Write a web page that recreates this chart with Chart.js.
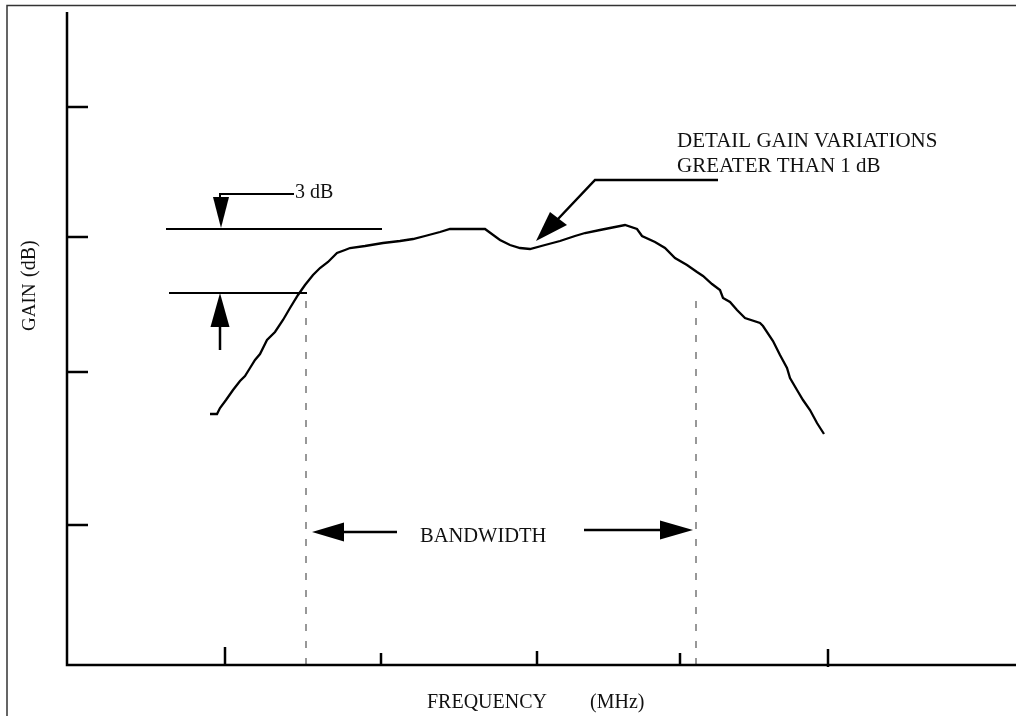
<!DOCTYPE html>
<html><head><meta charset="utf-8">
<script src="https://cdn.jsdelivr.net/npm/chart.js@4/dist/chart.umd.min.js"></script>
<style>html,body{margin:0;padding:0;background:#fff;}canvas{display:block;}</style>
</head><body>
<canvas id="c" width="1016" height="716"></canvas>
<script>
// Frequency (arbitrary MHz units) and gain (arbitrary dB units)
const freq = [14.3,15.0,15.3,15.9,16.6,17.3,17.8,18.3,18.8,19.3,20.0,20.8,21.6,22.3,23.1,23.8,24.6,25.3,26.1,27.0,27.8,28.3,29.8,31.6,33.3,34.6,35.8,37.3,38.3,41.8,43.3,44.3,45.3,46.3,47.8,49.3,50.8,51.8,53.3,54.3,55.8,57.0,57.5,58.8,59.8,60.8,62.0,63.0,63.6,64.5,65.3,65.6,66.3,67.0,67.8,69.3,69.6,70.6,71.3,72.0,72.3,73.0,73.6,74.3,75.0,75.7];
const gain = [25.1,25.1,25.7,26.5,27.5,28.4,28.9,29.7,30.5,31.1,32.5,33.3,34.5,35.7,37.0,38.0,39.0,39.7,40.3,41.2,41.5,41.7,41.9,42.2,42.4,42.6,42.9,43.3,43.6,43.6,42.5,42.0,41.7,41.6,42.0,42.4,42.9,43.2,43.5,43.7,44.0,43.6,42.9,42.3,41.7,40.7,40.0,39.3,38.9,38.1,37.5,36.7,36.3,35.5,34.7,34.2,33.9,32.4,31.0,29.7,28.7,27.5,26.5,25.5,24.2,23.1];

const xTickValues = [15.8, 31.4, 47.0, 61.3, 76.1];
const yTickValues = [55.8, 42.8, 29.3, 14.0];

const upperRefFreq = [9.9, 31.5];   const upperRefGain = 43.6;
const lowerRefFreq = [10.2, 24.0];  const lowerRefGain = 37.2;
const bandEdgeFreq = [23.9, 62.9];

// annotation geometry (data units)
const downArrowHead = [[15.4, 43.7], [14.6, 46.8], [16.2, 46.8]];
const downArrowLeader = [[15.3, 46.8], [15.3, 47.1], [22.7, 47.1]];
const upArrowHead = [[15.3, 37.2], [14.35, 33.8], [16.25, 33.8]];
const upArrowShaft = [[15.3, 33.8], [15.3, 31.5]];
const bwLeftHead = [[24.5, 13.3], [27.7, 14.25], [27.7, 12.35]];
const bwLeftShaft = [[27.7, 13.3], [33.0, 13.3]];
const bwRightHead = [[62.6, 13.5], [59.3, 14.45], [59.3, 12.55]];
const bwRightShaft = [[51.7, 13.5], [59.3, 13.5]];
const pointerLine = [[65.1, 48.5], [52.8, 48.5], [49.1, 44.6]];
const pointerHead = [[46.9, 42.4], [48.3, 45.3], [50.0, 44.0]];

const labels = {
  threeDb: {text: '3 dB', x: 22.8, y: 46.7, size: 20},
  bandwidth: {text: 'BANDWIDTH', x: 35.3, y: 12.3, size: 20.5},
  detail1: {text: 'DETAIL GAIN VARIATIONS', x: 61.0, y: 51.8, size: 21},
  detail2: {text: 'GREATER THAN 1 dB', x: 61.0, y: 49.3, size: 21}
};

const pts = (xs, ys) => xs.map((x, i) => ({x, y: ys[i]}));

const datasets = [
  {data: pts(freq, gain), borderColor: '#000', borderWidth: 2.3},
  {data: upperRefFreq.map(x => ({x, y: upperRefGain})), borderColor: '#000', borderWidth: 2},
  {data: lowerRefFreq.map(x => ({x, y: lowerRefGain})), borderColor: '#000', borderWidth: 2},
  {data: [{x: bandEdgeFreq[0], y: 0}, {x: bandEdgeFreq[0], y: lowerRefGain}], borderColor: '#777', borderWidth: 1.5, borderDash: [7, 10]},
  {data: [{x: bandEdgeFreq[1], y: 0}, {x: bandEdgeFreq[1], y: lowerRefGain}], borderColor: '#777', borderWidth: 1.5, borderDash: [7, 10]}
].map(d => Object.assign({showLine: true, pointRadius: 0, tension: 0, fill: false}, d));

const drawPlugin = {
  id: 'drawing',
  afterDraw(chart) {
    const ctx = chart.ctx, xs = chart.scales.x, ys = chart.scales.y, a = chart.chartArea;
    const P = p => [xs.getPixelForValue(p[0]), ys.getPixelForValue(p[1])];
    ctx.save();
    // outer frame
    ctx.strokeStyle = '#333'; ctx.lineWidth = 1.5;
    ctx.beginPath(); ctx.moveTo(7, 716); ctx.lineTo(7, 5.5); ctx.lineTo(1016, 5.5); ctx.stroke();
    // axes
    ctx.strokeStyle = '#000'; ctx.lineWidth = 2.5;
    ctx.beginPath(); ctx.moveTo(a.left, a.top); ctx.lineTo(a.left, a.bottom); ctx.lineTo(a.right, a.bottom); ctx.stroke();
    // ticks
    const xLens = [18, 12, 14, 12, 16];
    xTickValues.forEach((v, i) => {
      const px = xs.getPixelForValue(v);
      ctx.beginPath(); ctx.moveTo(px, a.bottom + (i === 4 ? 2 : 0)); ctx.lineTo(px, a.bottom - xLens[i]); ctx.stroke();
    });
    yTickValues.forEach(v => {
      const py = ys.getPixelForValue(v);
      ctx.beginPath(); ctx.moveTo(a.left, py); ctx.lineTo(a.left + 21, py); ctx.stroke();
    });
    // polylines
    const poly = (list, w) => {
      ctx.lineWidth = w; ctx.beginPath();
      list.forEach((p, i) => { const q = P(p); i ? ctx.lineTo(q[0], q[1]) : ctx.moveTo(q[0], q[1]); });
      ctx.stroke();
    };
    const tri = list => {
      ctx.fillStyle = '#000'; ctx.beginPath();
      list.forEach((p, i) => { const q = P(p); i ? ctx.lineTo(q[0], q[1]) : ctx.moveTo(q[0], q[1]); });
      ctx.closePath(); ctx.fill();
    };
    poly(downArrowLeader, 2); tri(downArrowHead);
    poly(upArrowShaft, 2.5); tri(upArrowHead);
    poly(bwLeftShaft, 2.5); tri(bwLeftHead);
    poly(bwRightShaft, 2.5); tri(bwRightHead);
    poly(pointerLine, 2.5); tri(pointerHead);
    // texts
    ctx.fillStyle = '#111'; ctx.textBaseline = 'alphabetic'; ctx.textAlign = 'left';
    Object.values(labels).forEach(l => {
      ctx.font = l.size + 'px "Liberation Serif"';
      const q = P([l.x, l.y]); ctx.fillText(l.text, q[0], q[1]);
    });
    ctx.font = '20px "Liberation Serif"';
    ctx.fillText('FREQUENCY', 427, 708);
    ctx.fillText('(MHz)', 590, 708);
    ctx.font = '19px "Liberation Serif"';
    ctx.save(); ctx.translate(35, 331); ctx.rotate(-Math.PI / 2); ctx.fillText('GAIN', 0, 0); ctx.restore();
    ctx.font = '20px "Liberation Serif"';
    ctx.save(); ctx.translate(35, 277); ctx.rotate(-Math.PI / 2); ctx.fillText('(dB)', 0, 0); ctx.restore();
    ctx.restore();
  }
};

new Chart(document.getElementById('c'), {
  type: 'scatter',
  data: {datasets},
  options: {
    responsive: false,
    animation: false,
    layout: {padding: {left: 67, top: 12, right: 0, bottom: 51}},
    scales: {
      x: {type: 'linear', min: 0, max: 94.9, display: false},
      y: {type: 'linear', min: 0, max: 65.3, display: false}
    },
    plugins: {legend: {display: false}, tooltip: {enabled: false}}
  },
  plugins: [drawPlugin]
});
</script>
</body></html>
